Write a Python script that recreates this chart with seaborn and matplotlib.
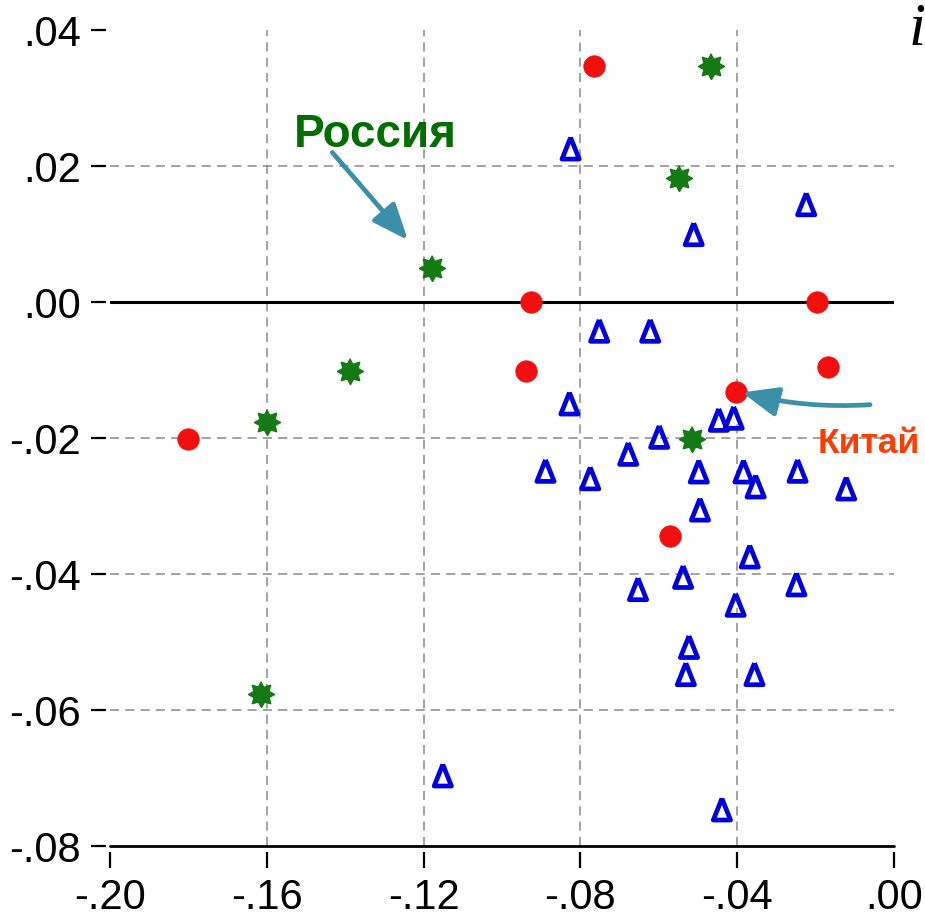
import numpy as np
import pandas as pd
import matplotlib
matplotlib.use("Agg")
import matplotlib.pyplot as plt
import seaborn as sns

# ---------------- data ----------------
red_x = [-0.0765, -0.0927, -0.0196, -0.0940, -0.0168, -0.0404, -0.1800, -0.0571]
red_y = [0.0347, 0.0000, 0.0000, -0.0101, -0.0095, -0.0133, -0.0201, -0.0344]

green_x = [-0.0467, -0.0549, -0.1179, -0.1389, -0.1600, -0.0516, -0.1615]
green_y = [0.0347, 0.0182, 0.0050, -0.0101, -0.0176, -0.0201, -0.0576]

blue_x = [-0.0825, -0.0224, -0.0511, -0.0752, -0.0622, -0.0828, -0.0447, -0.0409,
          -0.0599, -0.0678, -0.0889, -0.0775, -0.0498, -0.0384, -0.0353, -0.0246,
          -0.0122, -0.0495, -0.0368, -0.0653, -0.0538, -0.0249, -0.0404, -0.0523,
          -0.0531, -0.0356, -0.1151, -0.0439]
blue_y = [0.0226, 0.0144, 0.0100, -0.0042, -0.0042, -0.0149, -0.0173, -0.0170,
          -0.0198, -0.0223, -0.0248, -0.0259, -0.0249, -0.0249, -0.0271, -0.0248,
          -0.0274, -0.0305, -0.0374, -0.0422, -0.0404, -0.0415, -0.0445, -0.0507,
          -0.0547, -0.0547, -0.0696, -0.0746]

x_ticks = [-0.20, -0.16, -0.12, -0.08, -0.04, 0.00]
x_tick_labels = ["-.20", "-.16", "-.12", "-.08", "-.04", ".00"]
y_ticks = [0.04, 0.02, 0.00, -0.02, -0.04, -0.06, -0.08]
y_tick_labels = [".04", ".02", ".00", "-.02", "-.04", "-.06", "-.08"]

russia_label = "Россия"
russia_point = (-0.1240, 0.0091)
russia_tail = (-0.1433, 0.0220)
russia_text_pos = (-0.1322, 0.0230)

china_label = "Китай"
china_point = (-0.0388, -0.0133)
china_tail = (-0.0061, -0.0151)
china_text_pos = (-0.0063, -0.0220)

# ---------------- style ----------------
sns.set_theme(style="white")
plt.rcParams["font.family"] = ["Liberation Sans", "DejaVu Sans"]

RED = "#f20f0f"
GREEN = "#147a14"
BLUE = "#0000e0"
ARROW = "#3a90a8"

fig = plt.figure(figsize=(9.25, 9.2), dpi=100)
ax = fig.add_axes([110 / 925, 1 - 847 / 920, (894 - 110) / 925, (847 - 31) / 920])

# marker shapes
ang = np.linspace(np.pi / 2, np.pi / 2 + 2 * np.pi, 17)[:-1]
rad = np.where(np.arange(16) % 2 == 0, 1.0, 0.62)
star_verts = list(zip(rad * np.cos(ang), rad * np.sin(ang)))
tri_verts = [(0, 1), (-0.8, -1), (0.8, -1), (0, 1)]

# grid
for xv in x_ticks[1:-1]:
    ax.axvline(xv, color="#8a8a8a", lw=1.1, ls=(0, (6, 4)), zorder=1)
for yv in y_ticks:
    if yv in (0.04, 0.00, -0.08):
        continue
    ax.axhline(yv, color="#8a8a8a", lw=1.1, ls=(0, (6, 4)), zorder=1)
ax.axhline(0.0, color="black", lw=2.2, zorder=1.5)
ax.axhline(-0.08, color="black", lw=2.0, zorder=1.5, clip_on=False)

df_r = pd.DataFrame({"x": red_x, "y": red_y})
df_g = pd.DataFrame({"x": green_x, "y": green_y})
df_b = pd.DataFrame({"x": blue_x, "y": blue_y})

sns.scatterplot(data=df_b, x="x", y="y", ax=ax, marker=tri_verts, s=240,
                facecolor="none", edgecolor=BLUE, linewidth=3.4, zorder=3)
sns.scatterplot(data=df_r, x="x", y="y", ax=ax, marker="o", s=240,
                color=RED, edgecolor=RED, linewidth=0.5, zorder=4)
sns.scatterplot(data=df_g, x="x", y="y", ax=ax, marker=star_verts, s=340,
                color=GREEN, edgecolor=GREEN, linewidth=1.2, zorder=4)

ax.set_xlim(-0.20, 0.00)
ax.set_ylim(-0.08, 0.04)
ax.set_xticks(x_ticks)
ax.set_xticklabels(x_tick_labels)
ax.set_yticks(y_ticks)
ax.set_yticklabels(y_tick_labels)
ax.set_xlabel("")
ax.set_ylabel("")
for s in ax.spines.values():
    s.set_visible(False)
ax.spines["bottom"].set_position(("outward", 4))
ax.spines["left"].set_position(("outward", 3))
ax.tick_params(axis="x", bottom=True, direction="out", length=11.5, width=1.6,
               pad=7, labelsize=30, colors="black")
ax.tick_params(axis="y", left=True, direction="out", length=10.8, width=1.6,
               pad=7, labelsize=30, colors="black")
ax.grid(False)

# annotations
arrow_style = "-|>,head_length=1.1,head_width=0.45"
ax.annotate("", xy=russia_point, xytext=russia_tail,
            arrowprops=dict(arrowstyle=arrow_style,
                            color=ARROW, lw=3.4, mutation_scale=20,
                            shrinkA=0, shrinkB=0), zorder=5)
ax.text(*russia_text_pos, russia_label, color="#006e00", fontsize=33,
        fontweight="bold", ha="center", va="baseline", zorder=6)

ax.annotate("", xy=china_point, xytext=china_tail,
            arrowprops=dict(arrowstyle=arrow_style,
                            color=ARROW, lw=3.4, mutation_scale=20,
                            shrinkA=0, shrinkB=0,
                            connectionstyle="arc3,rad=-0.08"),
            zorder=5, annotation_clip=False)
ax.text(*china_text_pos, china_label, color="#ff3d00", fontsize=25.5,
        fontweight="bold", ha="center", va="baseline", zorder=6, clip_on=False)

fig.text(909 / 925, 1 - 45 / 920, "i", family=["Liberation Serif", "DejaVu Serif"],
         style="italic", fontsize=44, ha="left", va="baseline", color="black")

fig.savefig("out.png", dpi=100)
